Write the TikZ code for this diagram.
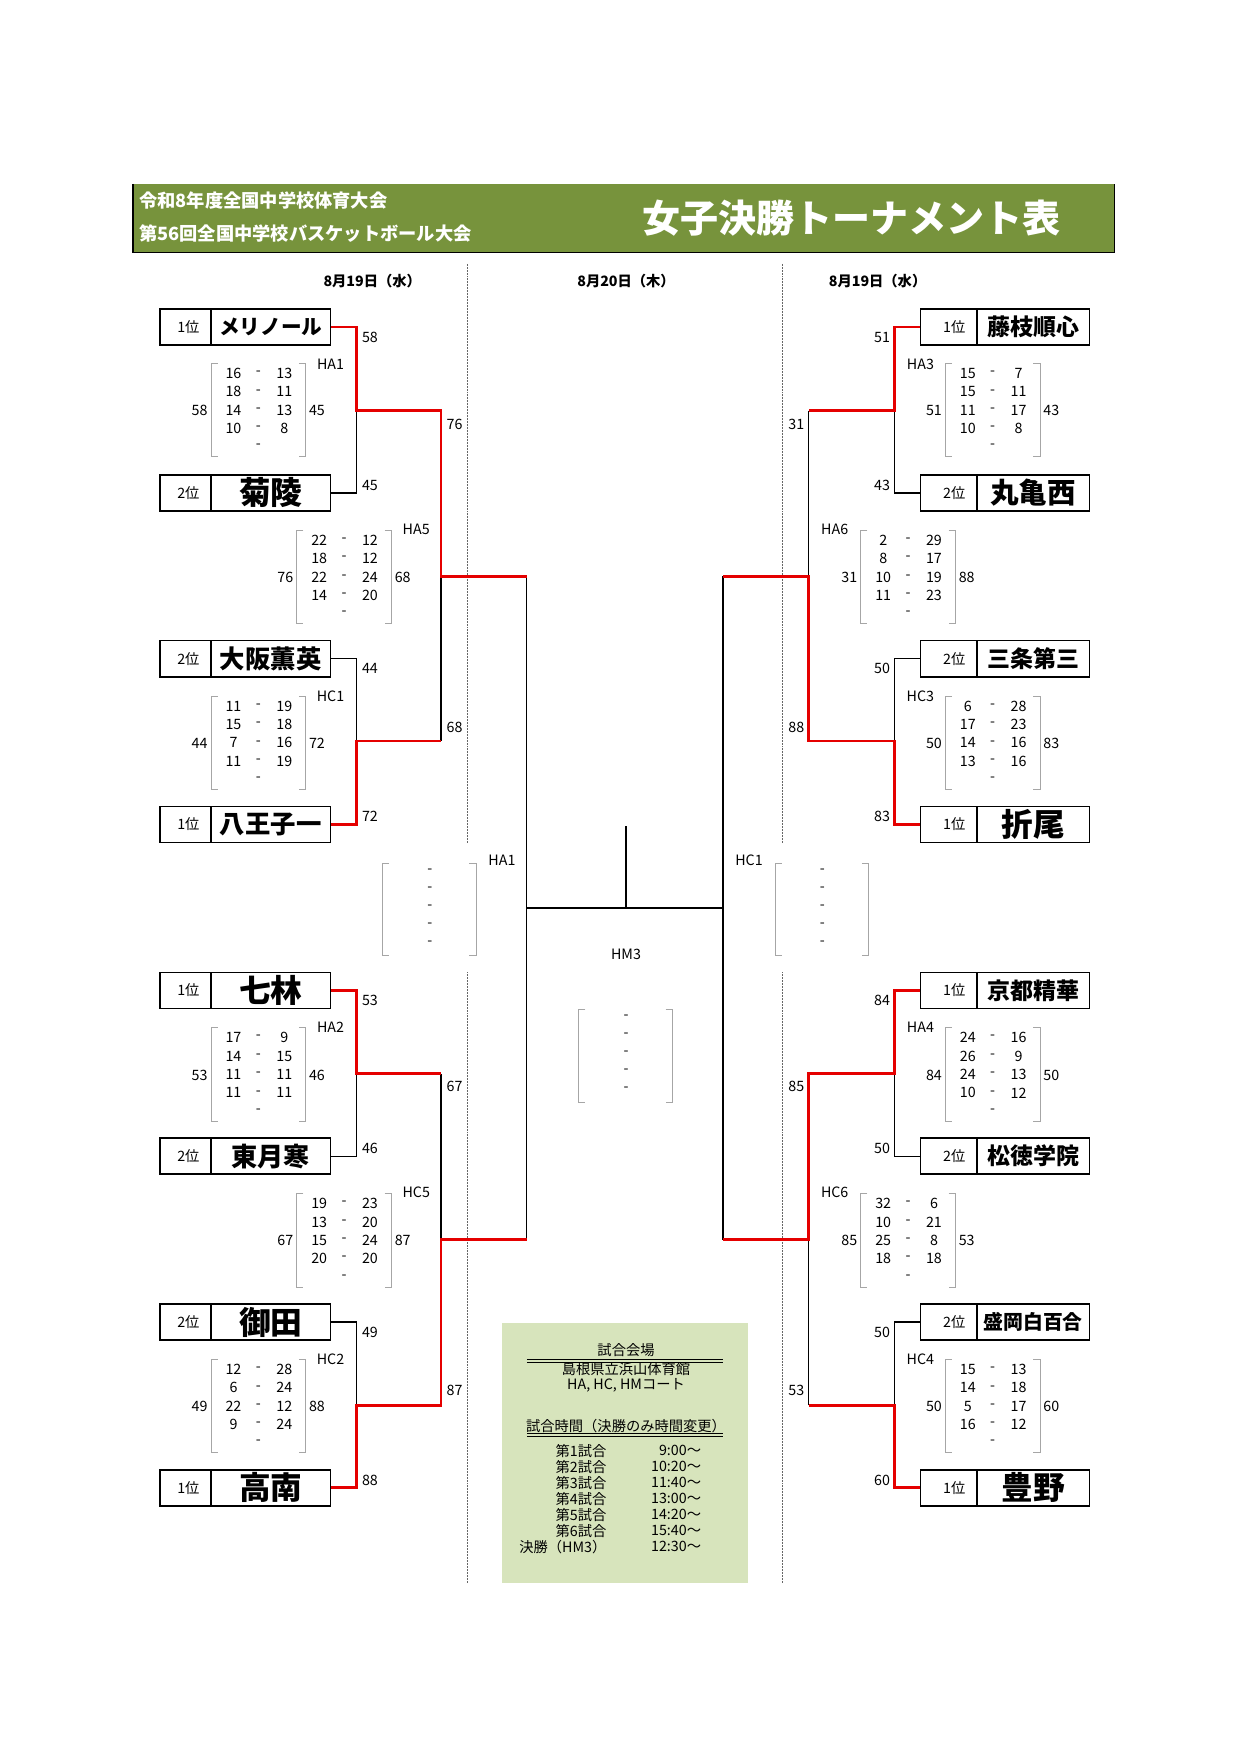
\documentclass[tikz,border=0pt]{standalone}
\usepackage{fontspec}
\setmainfont{Noto Sans CJK JP}
\definecolor{hdr}{HTML}{77933C}
\definecolor{info}{HTML}{D7E4BC}
\newcommand\fs[1]{\fontsize{#1}{#1}\selectfont}
\newcommand\tmL[5]{%
 \draw[box] (142,#2-16) rectangle (293,#2+16); \draw[box] (187,#2-16)--(187,#2+16);
 \node[sm] (#1r) at (167,#2) {#3};
 \node (#1) at (240,#2) {\fs{#4}\bfseries #5};
 \coordinate (#1e) at (293,#2);}
\newcommand\tmR[5]{%
 \draw[box] (816,#2-16) rectangle (966,#2+16); \draw[box] (866,#2-16)--(866,#2+16);
 \node[sm] (#1r) at (846,#2) {#3};
 \node (#1) at (916,#2) {\fs{#4}\bfseries #5};
 \coordinate (#1e) at (816,#2);}
\newcommand\scb[5]{%
 \draw[brk] (#1+6,#2)--(#1,#2)--(#1,#2+83)--(#1+6,#2+83);
 \draw[brk] (#1+78,#2)--(#1+84,#2)--(#1+84,#2+83)--(#1+78,#2+83);
 \foreach \a/\b [count=\i] in {#3} {
   \node[sm] at (#1+20,#2+9+\i*16.3-16.3) {\a};
   \node[sm] at (#1+42,#2+9+\i*16.3-16.3) {-};
   \node[sm] at (#1+65,#2+9+\i*16.3-16.3) {\b};}
 \node[sm] at (#1+42,#2+74) {-};
 \node[sm] at (#1-10,#2+42) {#4};
 \node[sm] at (#1+94,#2+42) {#5};}
\newcommand\emb[2]{%
 \draw[brk] (#1+6,#2)--(#1,#2)--(#1,#2+82)--(#1+6,#2+82);
 \draw[brk] (#1+77,#2)--(#1+83,#2)--(#1+83,#2+82)--(#1+77,#2+82);
 \foreach \i in {0,...,4} \node[sm] at (#1+42,#2+7+\i*16) {-};}
\begin{document}
\begin{tikzpicture}[x=0.05cm,y=-0.05cm,
 box/.style={line width=2},
 brk/.style={gray!70,line width=0.9},
 sm/.style={font=\fs{18}},
 ln/.style={black,line width=1.7},
 win/.style={red!90!black,line width=3.4},
 dot/.style={densely dotted,gray!80!black,line width=0.9}]
\useasboundingbox (0,0) rectangle (1100,1555);
% header
\fill[hdr] (118,163) rectangle (988,224);
\draw[line width=1.8] (118,163)--(118,224)--(988,224)--(988,163);
\node[anchor=west,white,font=\fs{23}\bfseries] (h1) at (121,178) {令和8年度全国中学校体育大会};
\node[anchor=west,white,font=\fs{23}\bfseries] (h2) at (121,207) {第56回全国中学校バスケットボール大会};
\node[white,font=\fs{48}\bfseries] (ttl) at (755,193) {女子決勝トーナメント表};
\node[font=\fs{18}\bfseries] (d1) at (330,249) {8月19日（水）};
\node[font=\fs{18}\bfseries] (d2) at (555,249) {8月20日（木）};
\node[font=\fs{18}\bfseries] (d3) at (778,249) {8月19日（水）};
\draw[dot] (414,234)--(414,748) (414,862)--(414,1403) (694,234)--(694,748) (694,862)--(694,1403);
% left teams
\tmL{L1}{290}{1位}{26}{メリノール}
\tmL{L2}{437}{2位}{40}{菊陵}
\tmL{L3}{584}{2位}{32}{大阪薫英}
\tmL{L4}{731}{1位}{32}{八王子一}
\tmL{L5}{878}{1位}{40}{七林}
\tmL{L6}{1025}{2位}{33}{東月寒}
\tmL{L7}{1172}{2位}{40}{御田}
\tmL{L8}{1319}{1位}{40}{高南}
% right teams
\tmR{R1}{290}{1位}{29}{藤枝順心}
\tmR{R2}{437}{2位}{36}{丸亀西}
\tmR{R3}{584}{2位}{29}{三条第三}
\tmR{R4}{731}{1位}{40}{折尾}
\tmR{R5}{878}{1位}{29}{京都精華}
\tmR{R6}{1025}{2位}{29}{松徳学院}
\tmR{R7}{1172}{2位}{25}{盛岡白百合}
\tmR{R8}{1319}{1位}{40}{豊野}
% joints
\coordinate (a1) at (316,364); \coordinate (b1) at (391,364);
\coordinate (a2) at (316,657); \coordinate (b2) at (391,657);
\coordinate (a3) at (316,952); \coordinate (b3) at (391,952);
\coordinate (a4) at (316,1246); \coordinate (b4) at (391,1246);
\coordinate (c1) at (391,511); \coordinate (e1) at (467,511);
\coordinate (c2) at (391,1099); \coordinate (e2) at (467,1099);
\coordinate (p1) at (793,364); \coordinate (q1) at (717,364);
\coordinate (p2) at (793,657); \coordinate (q2) at (717,657);
\coordinate (p3) at (793,952); \coordinate (q3) at (717,952);
\coordinate (p4) at (793,1246); \coordinate (q4) at (717,1246);
\coordinate (r1) at (717,511); \coordinate (f1) at (641,511);
\coordinate (r2) at (717,1099); \coordinate (f2) at (641,1099);
\coordinate (cl) at (467,805); \coordinate (cr) at (641,805);
\coordinate (cm) at (555,805); \coordinate (ct) at (555,732);
% black lines
\draw[ln] (L2e) -| (a1); \draw[ln] (L3e) -| (a2); \draw[ln] (L6e) -| (a3); \draw[ln] (L7e) -| (a4);
\draw[ln] (b2) -- (c1); \draw[ln] (b3) -- (c2);
\draw[ln] (R2e) -| (p1); \draw[ln] (R3e) -| (p2); \draw[ln] (R6e) -| (p3); \draw[ln] (R7e) -| (p4);
\draw[ln] (q1) -- (r1); \draw[ln] (q4) -- (r2);
\draw[ln] (e1) -- (e2); \draw[ln] (f1) -- (f2); \draw[ln] (cl) -- (cr); \draw[ln] (cm) -- (ct);
% red lines
\draw[win] (L1e) -| (a1) -- (b1) -- (c1) -- (e1);
\draw[win] (L4e) -| (a2) -- (b2);
\draw[win] (L5e) -| (a3) -- (b3);
\draw[win] (L8e) -| (a4) -- (b4) -- (c2) -- (e2);
\draw[win] (R1e) -| (p1) -- (q1);
\draw[win] (R4e) -| (p2) -- (q2) -- (r1) -- (f1);
\draw[win] (R5e) -| (p3) -- (q3) -- (r2) -- (f2);
\draw[win] (R8e) -| (p4) -- (q4);
% left labels
\node[sm] at (328,299) {58}; \node[sm] at (328,430) {45}; \node[sm] at (293,323) {HA1};
\node[sm] at (328,593) {44}; \node[sm] at (328,724) {72}; \node[sm] at (293,617) {HC1};
\node[sm] at (328,887) {53}; \node[sm] at (328,1018) {46}; \node[sm] at (293,911) {HA2};
\node[sm] at (328,1181) {49}; \node[sm] at (328,1312) {88}; \node[sm] at (293,1205) {HC2};
\node[sm] at (403,376) {76}; \node[sm] at (403,645) {68}; \node[sm] at (369,469) {HA5};
\node[sm] at (403,963) {67}; \node[sm] at (403,1233) {87}; \node[sm] at (369,1057) {HC5};
\scb{187}{322}{16/13,18/11,14/13,10/8}{58}{45}
\scb{187}{617}{11/19,15/18,7/16,11/19}{44}{72}
\scb{187}{911}{17/9,14/15,11/11,11/11}{53}{46}
\scb{187}{1205}{12/28,6/24,22/12,9/24}{49}{88}
\scb{263}{470}{22/12,18/12,22/24,14/20}{76}{68}
\scb{263}{1058}{19/23,13/20,15/24,20/20}{67}{87}
% right labels
\node[sm] at (782,299) {51}; \node[sm] at (782,430) {43}; \node[sm] at (816,323) {HA3};
\node[sm] at (782,593) {50}; \node[sm] at (782,724) {83}; \node[sm] at (816,617) {HC3};
\node[sm] at (782,887) {84}; \node[sm] at (782,1018) {50}; \node[sm] at (816,911) {HA4};
\node[sm] at (782,1181) {50}; \node[sm] at (782,1312) {60}; \node[sm] at (816,1205) {HC4};
\node[sm] at (706,376) {31}; \node[sm] at (706,645) {88}; \node[sm] at (740,469) {HA6};
\node[sm] at (706,963) {85}; \node[sm] at (706,1233) {53}; \node[sm] at (740,1057) {HC6};
\scb{838}{322}{15/7,15/11,11/17,10/8}{51}{43}
\scb{838}{617}{6/28,17/23,14/16,13/16}{50}{83}
\scb{838}{911}{24/16,26/9,24/13,10/12}{84}{50}
\scb{838}{1205}{15/13,14/18,5/17,16/12}{50}{60}
\scb{763}{470}{2/29,8/17,10/19,11/23}{31}{88}
\scb{763}{1058}{32/6,10/21,25/8,18/18}{85}{53}
% center
\node[sm] at (445,763) {HA1}; \node[sm] at (664,763) {HC1}; \node[sm] at (555,846) {HM3};
\emb{339}{765} \emb{687}{765} \emb{513}{895}
% info
\fill[info] (445,1173) rectangle (663,1403);
\node[sm] (i1) at (555,1197) {試合会場};
\draw[line width=0.9] (467,1205)--(641,1205) (467,1207.5)--(641,1207.5);
\node[sm] (i2) at (555,1214) {島根県立浜山体育館};
\node[sm] (i3) at (555,1228) {HA, HC, HMコート};
\node[sm] (i4) at (555,1264) {試合時間（決勝のみ時間変更）};
\draw[line width=0.9] (467,1271)--(641,1271) (467,1273.5)--(641,1273.5);
\foreach \l/\t [count=\i] in {第1試合/9:00～,第2試合/10:20～,第3試合/11:40～,第4試合/13:00～,第5試合/14:20～,第6試合/15:40～,決勝（HM3）/12:30～}{
 \node[sm,anchor=east] at (540,1286+\i*14.2-14.2) {\l};
 \node[sm,anchor=east] at (624,1286+\i*14.2-14.2) {\t};}
\end{tikzpicture}
\end{document}
